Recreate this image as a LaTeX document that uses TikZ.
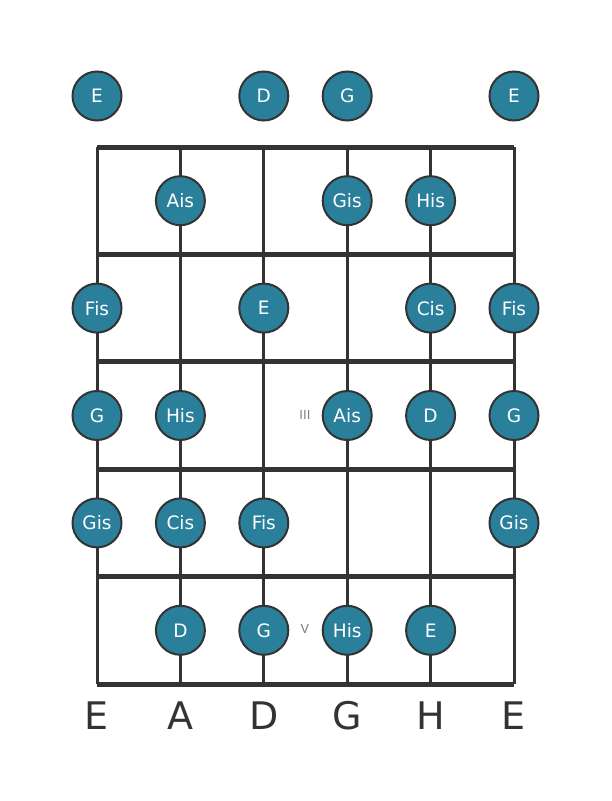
\documentclass[tikz,border=0pt]{standalone}
\usepackage{fontspec}
\setmainfont{DejaVu Sans}
\definecolor{notefill}{RGB}{42,128,155}
\definecolor{gridgray}{RGB}{51,51,51}
\definecolor{markgray}{RGB}{130,130,130}
\tikzset{
  note/.style={circle,draw=gridgray,line width=2pt,fill=notefill,minimum size=49pt,
    inner sep=0pt,text=white,font=\fontsize{18.5}{18.5}\selectfont},
  stringline/.style={draw=gridgray,line width=3pt},
  fretline/.style={draw=gridgray,line width=5pt},
  fretmark/.style={text=markgray,font=\fontsize{12.5}{12.5}\selectfont},
  tuning/.style={text=gridgray,font=\fontsize{38}{38}\selectfont}
}
\begin{document}
\begin{tikzpicture}[x=1pt,y=-1pt]
		\useasboundingbox (0,0) rectangle (611,801);
		% strings and frets
		\foreach \s in {0,...,5}
			\draw[stringline] ({97+\s*83.4},147) -- ({97+\s*83.4},684);
		\foreach \f in {0,...,5}
			\draw[fretline] (97,{147+\f*107.4}) -- (514,{147+\f*107.4});
		% fret markers
		\node[fretmark] (mark3) at (305,414.5) {III};
		\node[fretmark] (mark5) at (305,629.3) {V};
		% open strings
		\foreach \s/\n in {1/E,3/D,4/G,6/E}
			\node[note] (open-\s) at ({97+(\s-1)*83.4},96) {\n};
		% fretted notes
		\foreach \s/\f/\n in {2/1/Ais,4/1/Gis,5/1/His,
				1/2/Fis,3/2/E,5/2/Cis,6/2/Fis,
				1/3/G,2/3/His,4/3/Ais,5/3/D,6/3/G,
				1/4/Gis,2/4/Cis,3/4/Fis,6/4/Gis,
				2/5/D,3/5/G,4/5/His,5/5/E}
			\node[note] (n-\s-\f) at ({97+(\s-1)*83.4},{147+(\f-0.5)*107.4}) {\n};
		% tuning
		\foreach \s/\n in {1/E,2/A,3/D,4/G,5/H,6/E}
			\node[tuning] (tune-\s) at ({97+(\s-1)*83.4},716) {\n};
	\end{tikzpicture}
\end{document}
